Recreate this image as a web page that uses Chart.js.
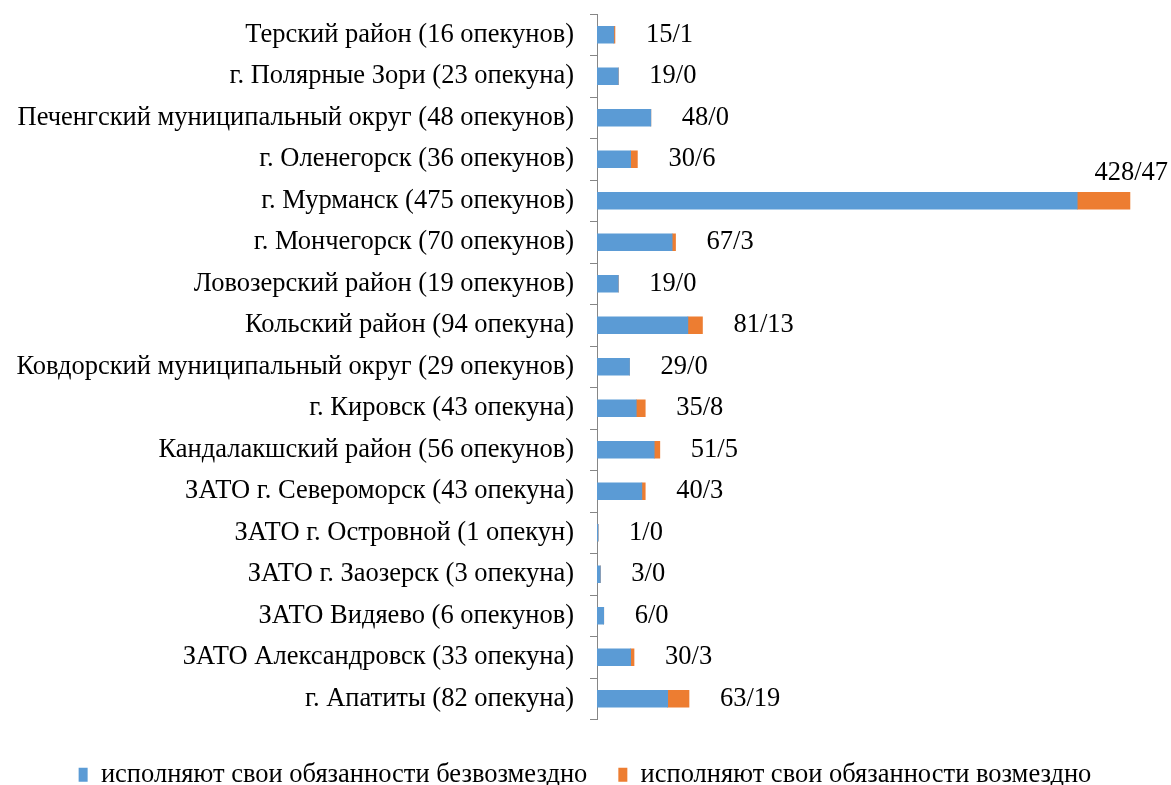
<!DOCTYPE html>
<html>
<head>
<meta charset="utf-8">
<script src="https://cdn.jsdelivr.net/npm/chart.js@4.4.1/dist/chart.umd.min.js"></script>
<style>
	html, body { margin: 0; padding: 0; background: #fff; }
	#wrap { width: 1171px; height: 785px; }
</style>
</head>
<body>
<div id="wrap"><canvas id="guardianchart"></canvas></div>
<script>
const districts = [
	'Терский район (16 опекунов)',
	'г. Полярные Зори (23 опекуна)',
	'Печенгский муниципальный округ (48 опекунов)',
	'г. Оленегорск (36 опекунов)',
	'г. Мурманск (475 опекунов)',
	'г. Мончегорск (70 опекунов)',
	'Ловозерский район (19 опекунов)',
	'Кольский район (94 опекуна)',
	'Ковдорский муниципальный округ (29 опекунов)',
	'г. Кировск (43 опекуна)',
	'Кандалакшский район (56 опекунов)',
	'ЗАТО г. Североморск (43 опекуна)',
	'ЗАТО г. Островной (1 опекун)',
	'ЗАТО г. Заозерск (3 опекуна)',
	'ЗАТО Видяево (6 опекунов)',
	'ЗАТО Александровск (33 опекуна)',
	'г. Апатиты (82 опекуна)'
];
const unpaid = [15, 19, 48, 30, 428, 67, 19, 81, 29, 35, 51, 40, 1, 3, 6, 30, 63];
const paid = [1, 0, 0, 6, 47, 3, 0, 13, 0, 8, 5, 3, 0, 0, 0, 3, 19];
const seriesNames = ['исполняют свои обязанности безвозмездно', 'исполняют свои обязанности возмездно'];

const fontFamily = '"Liberation Serif", "Times New Roman", serif';
const fontSize = 26.5;

// "безвозмездно/возмездно" labels after each bar
const pairLabels = {
	id: 'pairLabels',
	afterDatasetsDraw(chart) {
		const ctx = chart.ctx;
		const meta = chart.getDatasetMeta(1);
		ctx.save();
		ctx.font = fontSize + 'px ' + fontFamily;
		ctx.fillStyle = '#000';
		ctx.textBaseline = 'middle';
		meta.data.forEach(function(bar, i){
			const text = unpaid[i] + '/' + paid[i];
			const w = ctx.measureText(text).width;
			let x = bar.x + 31;
			let y = bar.y;
			ctx.textAlign = 'left';
			if(x + w > chart.width - 3){
				ctx.textAlign = 'right';
				x = chart.width - 3;
				y -= 28;
			}
			ctx.fillText(text, x, y);
		});
		ctx.restore();
	}
};

new Chart(document.getElementById('guardianchart'), {
	type: 'bar',
	data: {
		labels: districts,
		datasets: [
			{ label: seriesNames[0], data: unpaid, backgroundColor: '#5B9BD5', barThickness: 17 },
			{ label: seriesNames[1], data: paid, backgroundColor: '#ED7D31', barThickness: 17 }
		]
	},
	options: {
		indexAxis: 'y',
		responsive: true,
		maintainAspectRatio: false,
		animation: false,
		layout: { padding: { top: 14, right: 13, left: 12, bottom: -13 } },
		scales: {
			x: {
				stacked: true,
				min: 0,
				max: 500,
				grid: { display: false },
				border: { display: false },
				ticks: { display: false },
				afterFit: function(scale){
					scale.height = 11;
				}
			},
			y: {
				stacked: true,
				grid: {
					drawOnChartArea: false,
					drawTicks: true,
					tickLength: 7,
					color: '#868686',
					offset: true
				},
				border: { color: '#868686' },
				ticks: {
					color: '#000',
					padding: 16,
					autoSkip: false,
					font: { family: fontFamily, size: fontSize }
				},
				afterFit: function(scale){
					scale.width = 585;
					scale.paddingTop = 0;
					scale.paddingBottom = 0;
				}
			}
		},
		plugins: {
			legend: {
				position: 'bottom',
				labels: {
					color: '#000',
					boxWidth: 9,
					boxHeight: 14,
					padding: 31,
					font: { family: fontFamily, size: fontSize }
				}
			},
			tooltip: { enabled: false }
		}
	},
	plugins: [pairLabels]
});
</script>
</body>
</html>
